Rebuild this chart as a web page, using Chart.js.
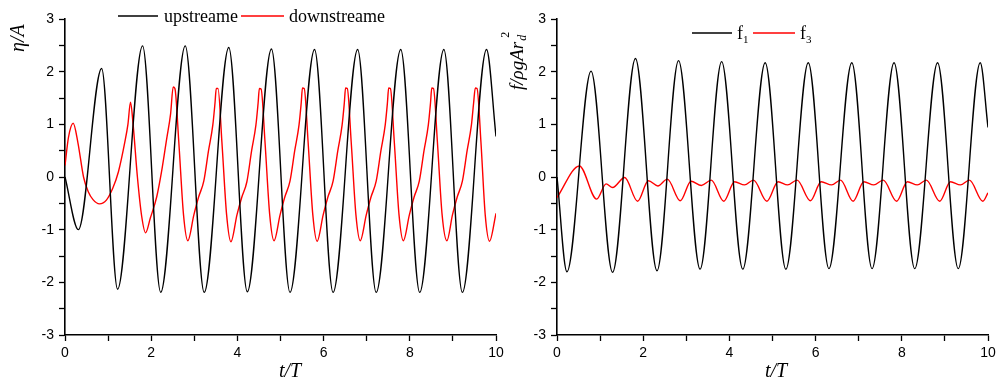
<!DOCTYPE html>
<html>
<head>
<meta charset="utf-8">
<script src="https://cdn.jsdelivr.net/npm/chart.js@4.4.1/dist/chart.umd.min.js"></script>
<style>
html, body { margin: 0; padding: 0; background: #fff; width: 996px; height: 390px; overflow: hidden; position: relative; }
canvas { position: absolute; top: 0; }
#left-panel { left: 0; }
#right-panel { left: 500px; }
</style>
</head>
<body>
<canvas id="left-panel" width="520" height="390"></canvas>
<canvas id="right-panel" width="520" height="390"></canvas>
<script>
// left panel: surface elevation eta/A, upstream and downstream gauges
const tUp = [0.00, 0.31, 0.85, 1.22, 1.80, 2.22, 2.79, 3.23, 3.80, 4.23, 4.79, 5.22, 5.79, 6.22, 6.79, 7.22, 7.79, 8.23, 8.79, 9.22, 9.78, 10.00];
const etaUp = [0.00, -1.00, 2.06, -2.13, 2.49, -2.19, 2.49, -2.19, 2.46, -2.18, 2.43, -2.19, 2.42, -2.19, 2.42, -2.19, 2.42, -2.19, 2.42, -2.19, 2.42, 0.77];

const tDown = [
    0.00, 0.08, 0.19, 0.30, 0.43, 0.54, 0.65, 0.80, 0.96, 1.11, 1.24, 1.39, 1.46, 1.52, 1.58, 1.68, 1.78, 1.87,
    1.98, 2.13, 2.24, 2.36, 2.45, 2.51, 2.55, 2.64, 2.75, 2.85,
    2.99, 3.10, 3.22, 3.33, 3.43, 3.48, 3.51, 3.55, 3.64, 3.75, 3.85,
    3.99, 4.10, 4.22, 4.33, 4.43, 4.48, 4.51, 4.55, 4.64, 4.75, 4.85,
    4.99, 5.10, 5.22, 5.33, 5.43, 5.48, 5.51, 5.55, 5.64, 5.75, 5.85,
    5.99, 6.10, 6.22, 6.33, 6.43, 6.48, 6.51, 6.55, 6.64, 6.75, 6.85,
    6.99, 7.10, 7.22, 7.33, 7.43, 7.48, 7.51, 7.55, 7.64, 7.75, 7.85,
    7.99, 8.10, 8.22, 8.33, 8.43, 8.48, 8.51, 8.55, 8.64, 8.75, 8.86,
    8.99, 9.10, 9.22, 9.33, 9.43, 9.48, 9.52, 9.56, 9.65, 9.75, 9.85,
    10.00
];
const etaDown = [
    0.22, 0.75, 1.02, 0.65, 0.00, -0.28, -0.43, -0.51, -0.44, -0.21, 0.10, 0.67, 1.00, 1.42, 1.00, 0.00, -0.75, -1.06,
    -0.78, -0.37, 0.10, 0.73, 1.20, 1.71, 1.68, 0.67, -0.72, -1.21,
    -0.72, -0.38, -0.08, 0.50, 0.99, 1.40, 1.68, 1.68, 0.67, -0.72, -1.23,
    -0.72, -0.39, -0.09, 0.50, 0.99, 1.40, 1.68, 1.67, 0.67, -0.72, -1.21,
    -0.72, -0.38, -0.08, 0.50, 0.99, 1.40, 1.69, 1.68, 0.67, -0.72, -1.22,
    -0.72, -0.38, -0.08, 0.50, 0.99, 1.40, 1.69, 1.68, 0.67, -0.72, -1.21,
    -0.72, -0.38, -0.08, 0.50, 0.99, 1.40, 1.69, 1.68, 0.67, -0.72, -1.21,
    -0.72, -0.38, -0.08, 0.50, 0.99, 1.40, 1.69, 1.68, 0.67, -0.72, -1.21,
    -0.72, -0.38, -0.08, 0.50, 0.99, 1.40, 1.69, 1.68, 0.67, -0.72, -1.22,
    -0.69
];

// right panel: force components f1, f3
const tF1 = [0.00, 0.23, 0.79, 1.29, 1.82, 2.32, 2.82, 3.32, 3.82, 4.31, 4.83, 5.31, 5.83, 6.31, 6.84, 7.31, 7.82, 8.30, 8.83, 9.31, 9.82, 10.00];
const f1 = [0.00, -1.80, 2.01, -1.81, 2.25, -1.78, 2.21, -1.75, 2.19, -1.75, 2.17, -1.75, 2.17, -1.74, 2.17, -1.74, 2.17, -1.74, 2.17, -1.74, 2.17, 0.94];

const tF3 = [
    0.00, 0.52, 0.92, 1.14, 1.29, 1.57, 1.87, 2.12, 2.34, 2.56, 2.86, 3.11, 3.35, 3.58, 3.87,
    4.12, 4.35, 4.56, 4.87, 5.13, 5.35, 5.57, 5.88, 6.13, 6.37, 6.58, 6.87, 7.12, 7.35, 7.57, 7.88,
    8.13, 8.36, 8.57, 8.88, 9.13, 9.36, 9.57, 9.88, 10.00
];
const f3 = [
    -0.39, 0.21, -0.42, -0.13, -0.20, -0.01, -0.46, -0.07, -0.17, -0.04, -0.45, -0.08, -0.16, -0.06, -0.46,
    -0.09, -0.15, -0.06, -0.46, -0.09, -0.15, -0.06, -0.45, -0.09, -0.15, -0.06, -0.46, -0.09, -0.15, -0.06, -0.46,
    -0.09, -0.15, -0.06, -0.46, -0.09, -0.15, -0.06, -0.46, -0.30
];

const xTicksShown = [0, 2, 4, 6, 8, 10];
const yTicksShown = [-3, -2, -1, 0, 1, 2, 3];

const serif = '"Liberation Serif", "Times New Roman", serif';
const sans = '"Liberation Sans", Arial, sans-serif';

function toPoints(xs, ys) {
    return xs.map((x, i) => ({ x: x, y: ys[i] }));
}

// draws a run of text pieces (sub/superscripts), optionally rotated to read upwards
function drawRuns(ctx, x, y, runs, vertical) {
    ctx.save();
    ctx.translate(x, y);
    if (vertical) ctx.rotate(-Math.PI / 2);
    ctx.textAlign = 'left';
    ctx.textBaseline = 'alphabetic';
    ctx.fillStyle = '#000';
    let pos = 0;
    runs.forEach(r => {
        ctx.font = r.font;
        const at = pos + (r.dx || 0);
        ctx.fillText(r.text, at, r.dy || 0);
        if (!r.keep) pos = at + ctx.measureText(r.text).width;
    });
    ctx.restore();
}

function decorPlugin(offsetX, lines, labels) {
    return {
        id: 'panelDecor',
        afterDraw(chart) {
            const ctx = chart.ctx;
            lines.forEach(l => {
                ctx.save();
                ctx.strokeStyle = l.color;
                ctx.lineWidth = 1.5;
                ctx.beginPath();
                ctx.moveTo(l.x1 - offsetX, l.y);
                ctx.lineTo(l.x2 - offsetX, l.y);
                ctx.stroke();
                ctx.restore();
            });
            labels.forEach(lb => drawRuns(ctx, lb.x - offsetX, lb.y, lb.runs, lb.vertical));
        }
    };
}

function panelChart(canvasId, datasets, yAxisWidth, padRight, decor) {
    const tickFont = { family: sans, size: 14 };
    return new Chart(document.getElementById(canvasId), {
        type: 'line',
        data: { datasets: datasets },
        options: {
            responsive: false,
            animation: false,
            events: [],
            layout: { padding: { left: 0, right: padRight, top: 19, bottom: 25 } },
            plugins: { legend: { display: false }, tooltip: { enabled: false } },
            elements: {
                point: { radius: 0 },
                line: { borderWidth: 1.4, cubicInterpolationMode: 'monotone' }
            },
            scales: {
                x: {
                    type: 'linear', min: 0, max: 10,
                    ticks: {
                        stepSize: 1, autoSkip: false, maxRotation: 0, padding: 4, color: '#000', font: tickFont,
                        callback: v => (xTicksShown.includes(v) ? String(v) : '')
                    },
                    grid: { drawOnChartArea: false, tickLength: 6, tickColor: '#000', tickWidth: 1.3 },
                    border: { color: '#000', width: 1.6 },
                    afterFit: s => { s.height = 30; }
                },
                y: {
                    type: 'linear', min: -3, max: 3,
                    ticks: {
                        stepSize: 0.5, autoSkip: false, padding: 5, color: '#000', font: tickFont,
                        callback: v => (yTicksShown.includes(v) ? String(v) : '')
                    },
                    grid: { drawOnChartArea: false, tickLength: 6, tickColor: '#000', tickWidth: 1.3 },
                    border: { color: '#000', width: 1.6 },
                    afterFit: s => { s.width = yAxisWidth; }
                }
            }
        },
        plugins: [decor]
    });
}

const titleFont = 'italic 19px ' + serif;
const legendFont = '18px ' + serif;
const smallItalic = 'italic 12px ' + serif;
const smallFont = '12px ' + serif;

panelChart('left-panel', [
    { label: 'upstreame', data: toPoints(tUp, etaUp), borderColor: '#000000' },
    { label: 'downstreame', data: toPoints(tDown, etaDown), borderColor: '#ff0000' }
], 65, 24, decorPlugin(0, [
    { x1: 118, x2: 158, y: 16, color: '#000000' },
    { x1: 241, x2: 284, y: 16, color: '#ff0000' }
], [
    { x: 164, y: 22, runs: [{ text: 'upstreame', font: legendFont }] },
    { x: 289, y: 22, runs: [{ text: 'downstreame', font: legendFont }] },
    { x: 24, y: 52, vertical: true, runs: [{ text: 'η/A', font: 'italic 20px ' + serif }] },
    { x: 279, y: 377, runs: [{ text: 't/T', font: 'italic 20px ' + serif }] }
]));

panelChart('right-panel', [
    { label: 'f1', data: toPoints(tF1, f1), borderColor: '#000000' },
    { label: 'f3', data: toPoints(tF3, f3), borderColor: '#ff0000' }
], 57, 32, decorPlugin(500, [
    { x1: 692, x2: 732, y: 33, color: '#000000' },
    { x1: 753, x2: 795, y: 33, color: '#ff0000' }
], [
    { x: 737, y: 39, runs: [{ text: 'f', font: legendFont }, { text: '1', font: '11px ' + serif, dy: 4 }] },
    { x: 800, y: 39, runs: [{ text: 'f', font: legendFont }, { text: '3', font: '11px ' + serif, dy: 4 }] },
    { x: 523, y: 90, vertical: true, runs: [
        { text: 'f/ρgAr', font: titleFont },
        { text: 'd', font: smallItalic, dx: 1, dy: 3, keep: true },
        { text: '2', font: smallFont, dx: 4, dy: -14 }
    ] },
    { x: 765, y: 377, runs: [{ text: 't/T', font: 'italic 20px ' + serif }] }
]));
</script>
</body>
</html>
